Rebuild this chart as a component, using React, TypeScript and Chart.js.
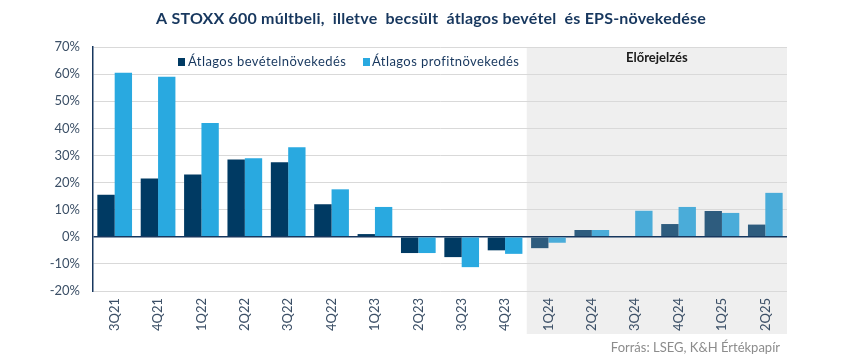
import React, { useEffect, useRef } from "react";
import { Chart, registerables } from "chart.js";

Chart.register(...registerables);

const categories = ["3Q21", "4Q21", "1Q22", "2Q22", "3Q22", "4Q22", "1Q23", "2Q23", "3Q23", "4Q23", "1Q24", "2Q24", "3Q24", "4Q24", "1Q25", "2Q25"];
const revenueGrowth = [15.5, 21.5, 23, 28.5, 27.5, 12, 1, -6, -7.5, -5, -4.2, 2.5, 0, 4.7, 9.5, 4.5];
const profitGrowth = [60.5, 59, 42, 29, 33, 17.5, 11, -6, -11.2, -6.3, -2.2, 2.5, 9.6, 11, 8.8, 16.2];
const forecastStart = 10;
const titleText = "A STOXX 600 múltbeli,  illetve  becsült  átlagos bevétel  és EPS-növekedése";
const legendLabels = ["Átlagos bevételnövekedés", "Átlagos profitnövekedés"];
const forecastLabel = "Előrejelzés";
const sourceText = "Forrás: LSEG, K&H Értékpapír";

const DARK = "#003a63";
const LIGHT = "#29a9e0";
const DARK_F = "#2e5c7e";
const LIGHT_F = "#4aacd9";
const FONT = "Lato, 'Open Sans', sans-serif";

export default function App() {
  const ref = useRef<HTMLCanvasElement | null>(null);

  useEffect(() => {
    document.body.style.margin = "0";
    const canvas = ref.current;
    if (!canvas) return;

    const decor = {
      id: "decor",
      beforeDraw(chart: any) {
        const { ctx, chartArea, scales } = chart;
        const x0 = scales.x.getPixelForValue(forecastStart - 0.5);
        ctx.save();
        ctx.fillStyle = "#efefef";
        ctx.fillRect(x0, chartArea.top, chartArea.right - x0, 334 - chartArea.top);
        ctx.restore();
      },
      afterDraw(chart: any) {
        const { ctx, chartArea, scales } = chart;
        ctx.save();
        // title
        ctx.fillStyle = "#17375e";
        ctx.font = `bold 16px ${FONT}`;
        (ctx as any).letterSpacing = "0.2px";
        ctx.textAlign = "center";
        ctx.textBaseline = "middle";
        ctx.fillText(titleText, 431, 19);
        // legend
        ctx.font = `13px ${FONT}`;
        ctx.textAlign = "left";
        ctx.fillStyle = DARK;
        ctx.fillRect(178, 58, 7, 8);
        ctx.fillStyle = "#17375e";
        (ctx as any).letterSpacing = "0.42px";
        ctx.fillText(legendLabels[0], 188, 62);
        ctx.fillStyle = LIGHT;
        ctx.fillRect(363, 58, 7, 8);
        ctx.fillStyle = "#17375e";
        ctx.fillText(legendLabels[1], 372, 62);
        // forecast label
        (ctx as any).letterSpacing = "0px";
        const x0 = scales.x.getPixelForValue(forecastStart - 0.5);
        ctx.font = `bold 13px ${FONT}`;
        ctx.textAlign = "center";
        ctx.fillStyle = "#1a1a1a";
        ctx.fillText(forecastLabel, (x0 + chartArea.right) / 2, 58);
        // source
        ctx.font = `13px ${FONT}`;
        ctx.textAlign = "right";
        ctx.fillStyle = "#8c8c8c";
        ctx.fillText(sourceText, 780, 348);
        ctx.restore();
      },
    };

    const colorsFor = (base: string, forecast: string) =>
      categories.map((_, i) => (i >= forecastStart ? forecast : base));

    const chart = new Chart(canvas, {
      type: "bar",
      data: {
        labels: categories,
        datasets: [
          {
            label: legendLabels[0],
            data: revenueGrowth,
            backgroundColor: colorsFor(DARK, DARK_F),
            barPercentage: 1,
            categoryPercentage: 0.8,
          },
          {
            label: legendLabels[1],
            data: profitGrowth,
            backgroundColor: colorsFor(LIGHT, LIGHT_F),
            barPercentage: 1,
            categoryPercentage: 0.8,
          },
        ],
      },
      options: {
        animation: false,
        responsive: false,
        maintainAspectRatio: false,
        layout: { padding: { top: 47, right: 63, left: 0, bottom: 0 } },
        plugins: {
          legend: { display: false },
          title: { display: false },
          tooltip: { enabled: false },
        },
        scales: {
          x: {
            grid: { display: false, drawTicks: false },
            border: { display: false },
            ticks: {
              minRotation: 90,
              maxRotation: 90,
              padding: 7,
              color: "#3b4f66",
              font: { family: FONT, size: 13 },
            },
            afterFit(scale: any) {
              scale.height = 68;
            },
          },
          y: {
            min: -20,
            max: 70,
            ticks: {
              stepSize: 10,
              padding: 13,
              color: "#3b4f66",
              font: { family: FONT, size: 13 },
              callback: (v: any) => `${v}%`,
            },
            grid: {
              drawTicks: false,
              color: (c: any) => (c.tick && c.tick.value === 0 ? "#17375e" : "#d9d9d9"),
              lineWidth: (c: any) => (c.tick && c.tick.value === 0 ? 1.5 : 1),
            },
            border: { display: true, color: "#17375e", width: 1.5 },
            afterFit(scale: any) {
              scale.width = 93;
            },
          },
        },
      },
      plugins: [decor],
    });

    return () => chart.destroy();
  }, []);

  return (
    <div style={{ width: 850, height: 359 }}>
      <canvas ref={ref} width={850} height={359} style={{ display: "block", width: 850, height: 359 }} />
    </div>
  );
}
